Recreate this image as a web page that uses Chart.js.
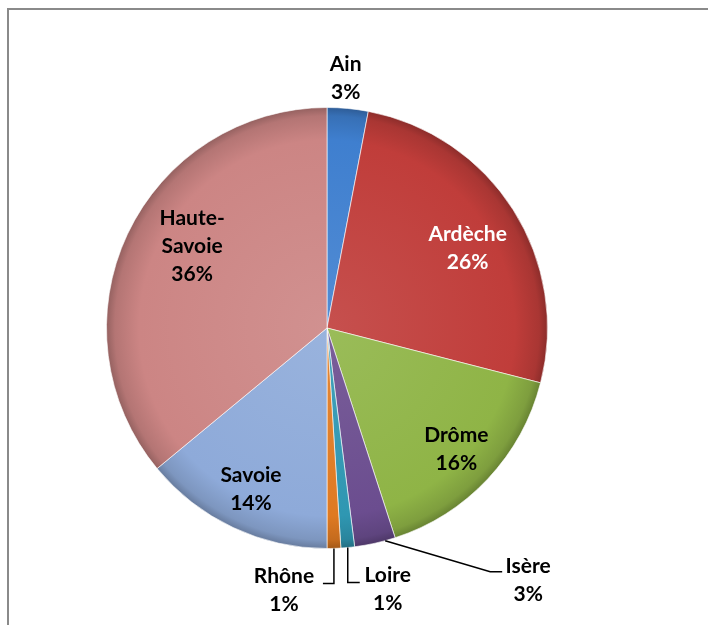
<!DOCTYPE html>
<html>
<head>
<meta charset="utf-8">
<script src="https://cdn.jsdelivr.net/npm/chart.js@4.4.1/dist/chart.umd.min.js"></script>
<style>
  html, body { margin: 0; padding: 0; background: #fff; }
  #wrap { position: relative; width: 708px; height: 625px; overflow: hidden; }
  #frame {
    position: absolute; left: 7px; top: 8px;
    width: 740px; height: 660px;
    border: 2px solid #8a8a8a;
  }
  canvas { position: absolute; left: 0; top: 0; }
</style>
</head>
<body>
<div id="wrap">
  <div id="frame"></div>
  <canvas id="pieChart" width="708" height="625"></canvas>
</div>
<script>
const departements = ["Ain", "Ardèche", "Drôme", "Isère", "Loire", "Rhône", "Savoie", "Haute-Savoie"];
const parts = [3, 26, 16, 3, 1, 1, 14, 36];
const labelLines = [["Ain"], ["Ardèche"], ["Drôme"], ["Isère"], ["Loire"], ["Rhône"], ["Savoie"], ["Haute-", "Savoie"]];

const sliceColors = ['#3f7fcf', '#c03d3a', '#8fb446', '#6b4d8f', '#2f97b2', '#df7a22', '#8eaad9', '#cc8584'];
const textColors = ['#000', '#fff', '#000', '#000', '#000', '#000', '#000', '#000'];

// where each label sits: frac of the radius along the slice (at angle pos 0..1), then a nudge
// leader: points relative to that edge point, used for the small slices
const labelPlace = [
  {pos: 0.5, frac: 1.14, dx: -5, dy: 0},
  {pos: 0.5, frac: 0.734, dx: 4, dy: 7},
  {pos: 0.5, frac: 0.805, dx: 0, dy: 0},
  {pos: 0.25, frac: 1, dx: 143, dy: 40, leader: [[105, 31], [117, 31]]},
  {pos: 0.5, frac: 1, dx: 40, dy: 42, leader: [[0, 35], [12, 35]]},
  {pos: 0.5, frac: 1, dx: -50, dy: 42, leader: [[0, 35], [-11, 35]]},
  {pos: 0.5, frac: 0.81, dx: 0, dy: 0},
  {pos: 0.5, frac: 0.716, dx: 8, dy: -15}
];

const shade = (hex, amt) => {
  const n = parseInt(hex.slice(1), 16);
  let r = n >> 16, g = (n >> 8) & 255, b = n & 255;
  const t = amt < 0 ? 0 : 255, p = Math.abs(amt);
  r = Math.round(r + (t - r) * p);
  g = Math.round(g + (t - g) * p);
  b = Math.round(b + (t - b) * p);
  return 'rgb(' + r + ',' + g + ',' + b + ')';
}

// soft bevel look: lighter toward the middle, darker on the rim
const sliceFill = (ctx) => {
  const chart = ctx.chart;
  const base = sliceColors[ctx.dataIndex];
  const area = chart.chartArea;
  if (!area) return base;
  const cx = (area.left + area.right) / 2;
  const cy = (area.top + area.bottom) / 2;
  const r = Math.min(area.width, area.height) / 2;
  const g = chart.ctx.createRadialGradient(cx, cy, 0, cx, cy, r);
  g.addColorStop(0, shade(base, 0.1));
  g.addColorStop(0.85, base);
  g.addColorStop(0.96, shade(base, -0.12));
  g.addColorStop(1, shade(base, -0.28));
  return g;
}

const pieLabels = {
  id: 'pieLabels',
  afterDatasetsDraw(chart) {
    const ctx = chart.ctx;
    const meta = chart.getDatasetMeta(0);
    ctx.save();
    ctx.font = 'bold 21px Lato';
    ctx.textAlign = 'center';
    ctx.textBaseline = 'middle';
    meta.data.forEach((arc, i) => {
      const p = arc.getProps(['x', 'y', 'startAngle', 'endAngle', 'outerRadius'], true);
      const place = labelPlace[i];
      const ang = p.startAngle + (p.endAngle - p.startAngle) * place.pos;
      const ax = p.x + Math.cos(ang) * p.outerRadius * place.frac;
      const ay = p.y + Math.sin(ang) * p.outerRadius * place.frac;

      if (place.leader) {
        ctx.strokeStyle = '#000';
        ctx.lineWidth = 1.5;
        ctx.beginPath();
        ctx.moveTo(ax, ay);
        place.leader.forEach(pt => ctx.lineTo(ax + pt[0], ay + pt[1]));
        ctx.stroke();
      }

      const lines = labelLines[i].concat([parts[i] + '%']);
      const lh = 28;
      const cx = ax + place.dx;
      const top = ay + place.dy - (lines.length - 1) * lh / 2;
      ctx.fillStyle = textColors[i];
      lines.forEach((t, k) => ctx.fillText(t, cx, top + k * lh));
    });
    ctx.restore();
  }
}

const pieData = {
  labels: departements,
  datasets: [{
    data: parts,
    backgroundColor: sliceFill,
    borderColor: 'rgba(255,255,255,0.6)',
    borderWidth: 1,
    hoverOffset: 0
  }]
}

const pieOptions = {
  responsive: false,
  animation: false,
  layout: {
    padding: {left: 106, top: 107, right: 160, bottom: 76}
  },
  plugins: {
    legend: { display: false },
    tooltip: { enabled: false }
  }
}

let pie = new Chart(document.getElementById("pieChart"), {type: 'pie', data: pieData, options: pieOptions, plugins: [pieLabels]})
</script>
</body>
</html>
